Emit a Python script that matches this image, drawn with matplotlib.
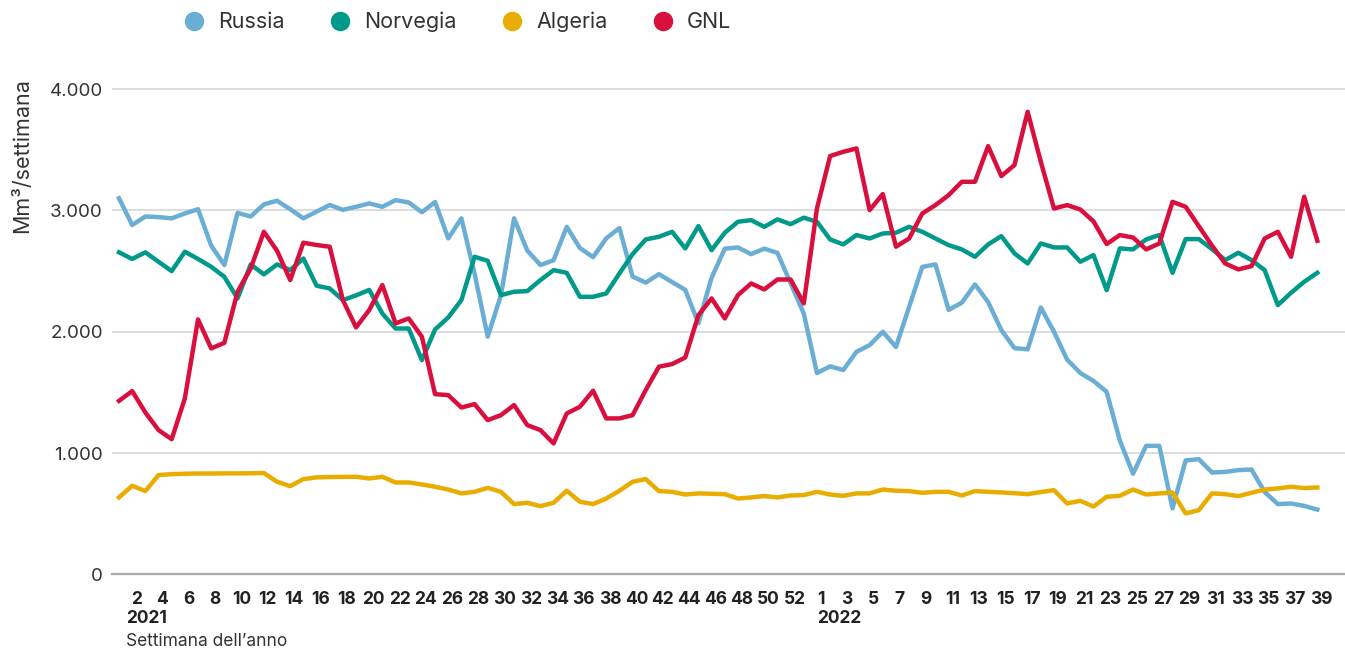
import matplotlib.pyplot as plt
from matplotlib.lines import Line2D
import numpy as np

plt.rcParams['font.family'] = ['Inter', 'DejaVu Sans']

# settimane: 2021 (1-53) e 2022 (1-39)
weeks_2021 = list(range(1, 54))
weeks_2022 = list(range(1, 40))
week_labels = [str(w) for w in weeks_2021] + [str(w) for w in weeks_2022]

# Mm3/settimana
russia = [3100, 2880, 2950, 2945, 2935, 2975, 3010, 2710, 2550, 2980,
          2950, 3050, 3080, 3010, 2935, 2990, 3045, 3005, 3030, 3058,
          3030, 3085, 3066, 2985, 3070, 2770, 2935, 2480, 1960, 2300,
          2935, 2670, 2550, 2590, 2865, 2690, 2615, 2770, 2855, 2455,
          2405, 2475, 2410, 2345, 2070, 2445, 2685, 2695, 2640, 2685,
          2650, 2400, 2150, 1660, 1715, 1685, 1835, 1890, 2000, 1875,
          2205, 2535, 2555, 2180, 2240, 2390, 2245, 2015, 1865, 1855,
          2200, 2000, 1770, 1660, 1595, 1505, 1105, 830, 1060, 1060,
          545, 940, 950, 840, 845, 860, 865, 680, 580, 585,
          565, 535]
norvegia = [2655, 2600, 2655, 2577, 2500, 2660, 2600, 2536, 2453, 2275,
            2555, 2473, 2555, 2508, 2604, 2380, 2357, 2261, 2300, 2345,
            2150, 2027, 2027, 1766, 2019, 2118, 2261, 2618, 2585, 2302,
            2330, 2335, 2426, 2508, 2486, 2288, 2288, 2316, 2481, 2640,
            2761, 2783, 2824, 2687, 2871, 2673, 2816, 2907, 2920, 2865,
            2926, 2887, 2940, 2907, 2761, 2720, 2797, 2769, 2810, 2816,
            2865, 2824, 2769, 2714, 2679, 2618, 2720, 2788, 2646, 2563,
            2728, 2695, 2695, 2577, 2632, 2343, 2687, 2679, 2761, 2797,
            2486, 2764, 2764, 2681, 2591, 2651, 2591, 2508, 2220, 2321,
            2412, 2486]
algeria = [635, 731, 687, 819, 827, 830, 832, 832, 833, 833,
           834, 836, 764, 728, 786, 800, 803, 804, 805, 791,
           805, 758, 758, 742, 723, 700, 668, 681, 714, 681,
           580, 591, 563, 591, 690, 599, 580, 626, 690, 764,
           786, 687, 681, 659, 668, 665, 662, 626, 635, 646,
           635, 651, 654, 681, 659, 648, 668, 668, 700, 690,
           687, 673, 681, 681, 651, 687, 681, 676, 670, 662,
           679, 695, 585, 607, 560, 640, 648, 700, 659, 668,
           676, 503, 530, 668, 662, 646, 673, 700, 709, 723,
           712, 717]
gnl = [1431, 1511, 1335, 1190, 1115, 1451, 2102, 1863, 1909, 2330,
       2522, 2824, 2668, 2426, 2734, 2715, 2701, 2261, 2036, 2179,
       2385, 2069, 2110, 1959, 1486, 1478, 1376, 1404, 1272, 1313,
       1396, 1231, 1190, 1080, 1327, 1382, 1514, 1286, 1286, 1313,
       1520, 1712, 1734, 1788, 2137, 2275, 2110, 2302, 2398, 2349,
       2431, 2431, 2234, 3016, 3448, 3483, 3511, 3003, 3135, 2701,
       2769, 2975, 3044, 3126, 3236, 3236, 3530, 3283, 3374, 3813,
       3401, 3016, 3044, 3008, 2910, 2723, 2797, 2777, 2679, 2728,
       3071, 3030, 2870, 2710, 2563, 2514, 2541, 2769, 2824, 2618,
       3113, 2750]

series = [("Russia", russia, "#6aadd5"),
          ("Norvegia", norvegia, "#00998a"),
          ("Algeria", algeria, "#e8ad00"),
          ("GNL", gnl, "#d90f3d")]

fig = plt.figure(figsize=(13.45, 6.5), dpi=100)
ax = fig.add_axes([0.0833, 0.1162, 0.9167, 0.7654])

x = np.arange(len(week_labels))
for name, vals, col in series:
    ax.plot(x, vals, color=col, lw=3.2, label=name)

ax.set_xlim(-0.53, 93.1)
ax.set_ylim(0, 4100)
ax.set_yticks([0, 1000, 2000, 3000, 4000])
ax.set_yticklabels(["0", "1.000", "2.000", "3.000", "4.000"])
ax.grid(axis='y', color='#dddddd', lw=1.4)
ax.set_axisbelow(True)
for s in ['top', 'right', 'left']:
    ax.spines[s].set_visible(False)
ax.spines['bottom'].set_color('#aaaaaa')
ax.spines['bottom'].set_linewidth(1.6)

ticks = x[1::2]
ax.set_xticks(ticks + 0.3)
ax.set_xticklabels([week_labels[i] for i in ticks], fontsize=12.5,
                   fontweight='bold', color='#222222')
ax.tick_params(axis='x', length=0, pad=12)
ax.tick_params(axis='y', length=0, pad=6.5, labelsize=13.5, labelcolor='#333333')

tr = ax.get_xaxis_transform()
ax.text(2.1, -0.089, "2021", transform=tr, ha='center', va='center',
        fontsize=12.5, fontweight='bold', color='#222222')
ax.text(54.7, -0.089, "2022", transform=tr, ha='center', va='center',
        fontsize=12.5, fontweight='bold', color='#222222')
fig.text(126 / 1345, 1 - 641 / 650, "Settimana dell\u2019anno", ha='left',
         va='center', fontsize=12.5, color='#333333')
fig.text(22 / 1345, 1 - 156 / 650, "Mm\u00b3/settimana", rotation=90,
         ha='center', va='center', fontsize=15.5, color='#333333')

handles = [Line2D([], [], marker='o', linestyle='', markersize=13,
                  color=col) for _, _, col in series]
fig.legend(handles, [n for n, _, _ in series], loc='center',
           bbox_to_anchor=(0.340, 0.966), ncol=4, frameon=False,
           fontsize=15.5, handlelength=1.0, handletextpad=0.6,
           columnspacing=2.1, labelcolor='#333333')

fig.savefig("out.png", dpi=100)
